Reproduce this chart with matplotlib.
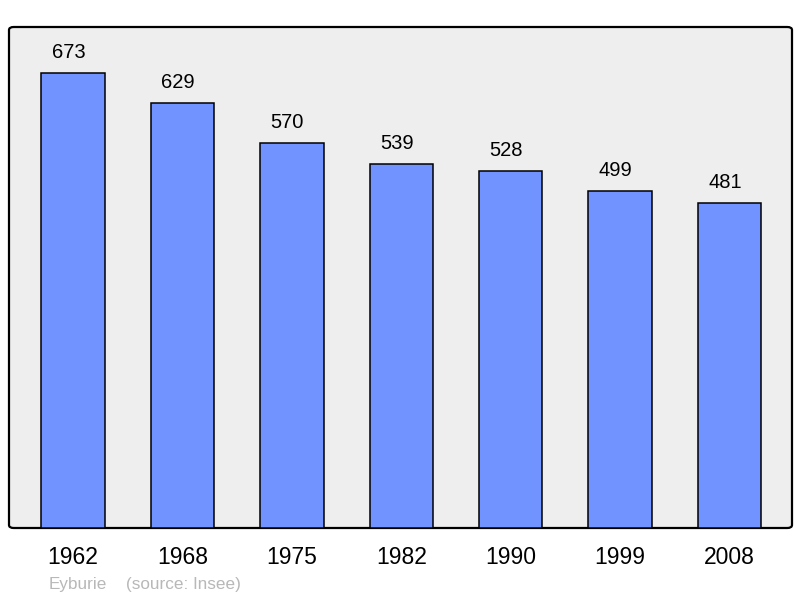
import matplotlib
matplotlib.use("Agg")
import matplotlib.pyplot as plt
from matplotlib.patches import FancyBboxPatch
from matplotlib.transforms import offset_copy

years = ["1962", "1968", "1975", "1982", "1990", "1999", "2008"]
population = [673, 629, 570, 539, 528, 499, 481]

plt.rcParams['font.family'] = ['Liberation Sans', 'DejaVu Sans']

fig = plt.figure(figsize=(8, 5.98), dpi=100)
ax = fig.add_axes([9/800, 1 - 528/598, 783/800, 501/598])
ax.set_facecolor('none')
for s in ax.spines.values():
    s.set_visible(False)

bg = FancyBboxPatch((0, 0), 1, 1, boxstyle="round,pad=0,rounding_size=0.006",
                    transform=ax.transAxes, facecolor='#eeeeee', edgecolor='black',
                    linewidth=1.6, zorder=0, clip_on=False)
ax.add_patch(bg)

x = list(range(len(years)))
bars = ax.bar(x, population, width=0.58, color='#7093ff', edgecolor='black',
              linewidth=1.1, zorder=2)
lab_tr = offset_copy(ax.transData, fig=fig, x=-4.5, y=15, units='dots')
for xi, v in zip(x, population):
    ax.text(xi, v, str(v), ha='center', va='baseline', fontsize=14.5,
            color='black', transform=lab_tr)

ax.set_xlim(-0.585, 6.57)
ax.set_ylim(0, 741)
ax.set_yticks([])
ax.set_xticks(x)
ax.set_xticklabels(years, fontsize=16.5)
ax.tick_params(axis='x', length=0, pad=13)

fig.text(49/800, 1 - 584/598, "Eyburie", fontsize=12.3, color='#b8b8b8', va='center', ha='left')
fig.text(126/800, 1 - 584/598, "(source: Insee)", fontsize=12.3, color='#b8b8b8', va='center', ha='left')

fig.savefig("out.png", dpi=100)
